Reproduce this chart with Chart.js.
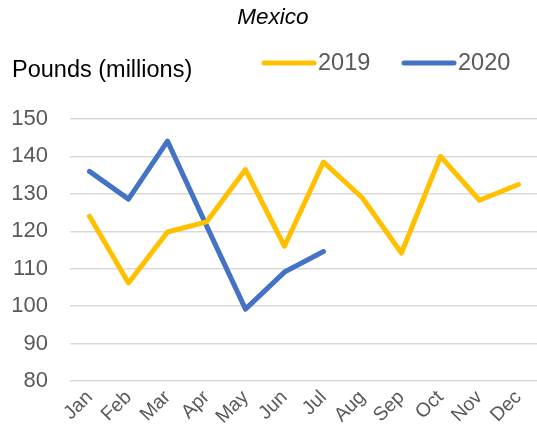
<!DOCTYPE html>
<html>
<head>
<meta charset="utf-8">
<script src="https://cdn.jsdelivr.net/npm/chart.js@4"></script>
<style>
html,body{margin:0;padding:0;background:#fff;overflow:hidden;}
#wrap{position:relative;width:540px;height:443px;}
</style>
</head>
<body>
<div id="wrap"><canvas id="c"></canvas></div>
<script>
const months = ['Jan','Feb','Mar','Apr','May','Jun','Jul','Aug','Sep','Oct','Nov','Dec'];
const values2019 = [124.0,106.2,119.8,122.5,136.5,116.0,138.5,128.9,114.2,140.0,128.3,132.5];
const values2020 = [136.0,128.6,144.1,121.5,99.2,109.1,114.6,null,null,null,null,null];
const seriesLabels = ['2019','2020'];
const subtitleText = 'Mexico';
const axisTitleText = 'Pounds (millions)';
const yTicks = [80,90,100,110,120,130,140,150];

const FONT = '"Liberation Sans", Arial, sans-serif';
const colors = ['#FFC000','#4472C4'];

const textPlugin = {
  id: 'texts',
  afterDraw(chart) {
    const ctx = chart.ctx;
    ctx.save();
    ctx.textBaseline = 'middle';
    ctx.fillStyle = '#000';
    ctx.font = 'italic 22.5px ' + FONT;
    ctx.textAlign = 'center';
    ctx.fillText(subtitleText, 273, 18);
    ctx.font = '23.5px ' + FONT;
    ctx.textAlign = 'left';
    ctx.fillText(axisTitleText, 12, 71);
    // legend
    const items = [{x:264, tx:318}, {x:404, tx:458}];
    chart.data.datasets.forEach((ds, i) => {
      const it = items[i];
      ctx.strokeStyle = ds.borderColor;
      ctx.lineWidth = 5;
      ctx.lineCap = 'round';
      ctx.beginPath();
      ctx.moveTo(it.x, 63);
      ctx.lineTo(it.x + 50, 63);
      ctx.stroke();
      ctx.fillStyle = '#595959';
      ctx.font = '23.5px ' + FONT;
      ctx.fillText(ds.label, it.tx, 64);
    });
    ctx.restore();
  }
};

new Chart(document.getElementById('c'), {
  type: 'line',
  data: {
    labels: months,
    datasets: [
      {label: seriesLabels[0], data: values2019, borderColor: colors[0], backgroundColor: colors[0], borderWidth: 5, pointRadius: 0, tension: 0, borderCapStyle: 'round', borderJoinStyle: 'round'},
      {label: seriesLabels[1], data: values2020, borderColor: colors[1], backgroundColor: colors[1], borderWidth: 5, pointRadius: 0, tension: 0, borderCapStyle: 'round', borderJoinStyle: 'round'}
    ]
  },
  options: {
    responsive: true,
    maintainAspectRatio: false,
    animation: false,
    events: [],
    layout: {padding: {top: 119, right: 0, left: 0, bottom: 0}},
    plugins: {legend: {display: false}, title: {display: false}, tooltip: {enabled: false}},
    scales: {
      x: {
        offset: true,
        grid: {display: false, drawTicks: false},
        border: {display: false},
        ticks: {font: {family: FONT, size: 19.5}, color: '#595959', maxRotation: 45, minRotation: 45, autoSkip: false, padding: 5},
        afterFit(scale) { scale.height = 62; }
      },
      y: {
        min: 80, max: 150,
        afterBuildTicks(scale) { scale.ticks = yTicks.map(v => ({value: v})); },
        grid: {color: '#D9D9D9', lineWidth: 1.5, drawTicks: false},
        border: {display: false},
        ticks: {font: {family: FONT, size: 22}, color: '#595959', padding: 22},
        afterFit(scale) { scale.width = 70; }
      }
    }
  },
  plugins: [textPlugin]
});
</script>
</body>
</html>
